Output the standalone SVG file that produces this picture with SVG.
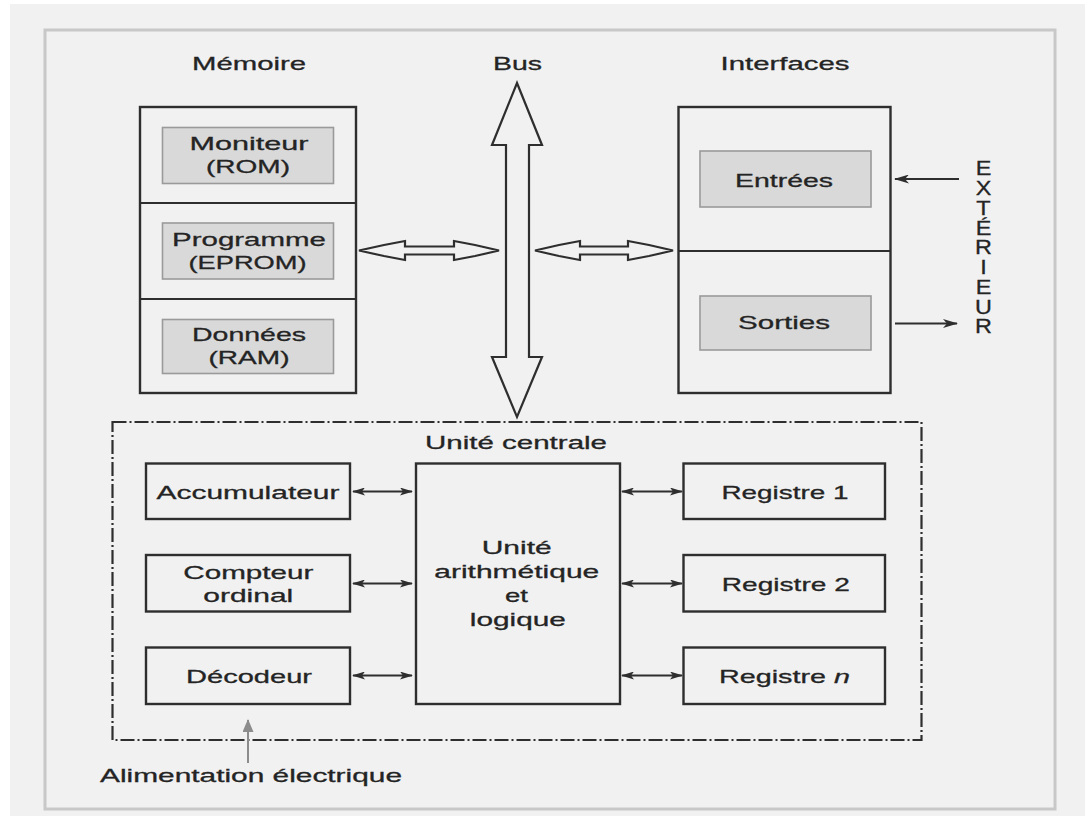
<svg xmlns="http://www.w3.org/2000/svg" width="1085" height="816" viewBox="0 0 1085 816">
  <style>
    text { font-family: "Liberation Sans", Arial, sans-serif; font-size: 19px; fill: #242424; stroke: #242424; stroke-width: 0.3; text-anchor: middle; }
    .box { fill: none; stroke: #2e2e2e; stroke-width: 2.4; }
    .cell { fill: #d9d9d9; stroke: #9a9a9a; stroke-width: 1.6; }
    .div { stroke: #2e2e2e; stroke-width: 2.2; }
    .bus { fill: #f1f1f1; stroke: #2e2e2e; stroke-width: 2.2; stroke-linejoin: miter; }
    .link { stroke: #2e2e2e; stroke-width: 1.8; fill: none; }
    .unit { fill: none; stroke: #2e2e2e; stroke-width: 2.2; stroke-dasharray: 14 3 2 3; }
    .power { stroke: #8c8c8c; stroke-width: 2; fill: none; }
    .ext { font-size: 19.5px; text-anchor: start; writing-mode: vertical-rl; text-orientation: upright; }
  </style>
  <defs>
    <marker id="head" viewBox="0 0 13 8" refX="12" refY="4" markerWidth="13" markerHeight="8" markerUnits="userSpaceOnUse" orient="auto-start-reverse">
      <path d="M0,0 L13,4 L0,8 L3,4 z" fill="#2e2e2e"/>
    </marker>
    <marker id="headLong" viewBox="0 0 15 9" refX="14" refY="4.5" markerWidth="15" markerHeight="9" markerUnits="userSpaceOnUse" orient="auto">
      <path d="M0,0 L15,4.5 L0,9 L4,4.5 z" fill="#2e2e2e"/>
    </marker>
    <marker id="headGray" viewBox="0 0 13 11" refX="12" refY="5.5" markerWidth="13" markerHeight="11" markerUnits="userSpaceOnUse" orient="auto">
      <path d="M0,0 L13,5.5 L0,11 z" fill="#8c8c8c"/>
    </marker>
  </defs>

  <!-- page background and frame -->
  <rect x="0" y="0" width="1085" height="816" fill="#ffffff"/>
  <rect x="10" y="4" width="1075" height="812" fill="#f1f1f1"/>
  <rect x="45" y="30" width="1010" height="779" fill="none" stroke="#c8c8c8" stroke-width="3"/>

  <!-- column headings -->
  <text x="249" y="70" textLength="114" lengthAdjust="spacingAndGlyphs">Mémoire</text>
  <text x="517.5" y="70" textLength="49" lengthAdjust="spacingAndGlyphs">Bus</text>
  <text x="785" y="70" textLength="129" lengthAdjust="spacingAndGlyphs">Interfaces</text>

  <!-- memory block -->
  <g id="memoire">
    <rect class="box" x="140" y="107" width="216" height="286"/>
    <line class="div" x1="140" y1="203" x2="356" y2="203"/>
    <line class="div" x1="140" y1="299" x2="356" y2="299"/>
  </g>
  <g id="moniteur">
    <rect class="cell" x="162.5" y="127.5" width="171" height="56"/>
    <text x="249" y="150" textLength="119" lengthAdjust="spacingAndGlyphs">Moniteur</text>
    <text x="248" y="173" textLength="84" lengthAdjust="spacingAndGlyphs">(ROM)</text>
  </g>
  <g id="programme">
    <rect class="cell" x="162.5" y="223" width="171" height="56"/>
    <text x="249" y="246" textLength="154" lengthAdjust="spacingAndGlyphs">Programme</text>
    <text x="247.5" y="268.5" textLength="118" lengthAdjust="spacingAndGlyphs">(EPROM)</text>
  </g>
  <g id="donnees">
    <rect class="cell" x="162.5" y="319.5" width="171" height="54"/>
    <text x="249" y="341" textLength="114" lengthAdjust="spacingAndGlyphs">Données</text>
    <text x="249" y="363.5" textLength="81" lengthAdjust="spacingAndGlyphs">(RAM)</text>
  </g>

  <!-- interfaces block -->
  <g id="interfaces">
    <rect class="box" x="678.5" y="107" width="212" height="286"/>
    <line class="div" x1="678.5" y1="251" x2="890.5" y2="251"/>
  </g>
  <g id="entrees">
    <rect class="cell" x="700" y="151" width="171" height="56"/>
    <text x="784" y="186.5" textLength="98" lengthAdjust="spacingAndGlyphs">Entrées</text>
  </g>
  <g id="sorties">
    <rect class="cell" x="700" y="296" width="171" height="54"/>
    <text x="784" y="328.5" textLength="92" lengthAdjust="spacingAndGlyphs">Sorties</text>
  </g>

  <!-- outside world label, written top to bottom -->
  <g id="exterieur" transform="translate(983.5,0) scale(1.2,1)">
    <text class="ext" x="0" y="158" textLength="180" lengthAdjust="spacing">EXTÉRIEUR</text>
  </g>

  <!-- central unit -->
  <g id="unite-centrale">
    <rect class="unit" x="112.5" y="422" width="809" height="318"/>
    <text x="516" y="448.5" textLength="182" lengthAdjust="spacingAndGlyphs">Unité centrale</text>
  </g>
  <g id="accumulateur">
    <rect class="box" x="146" y="463.5" width="204" height="55.5"/>
    <text x="248" y="498.5" textLength="183" lengthAdjust="spacingAndGlyphs">Accumulateur</text>
  </g>
  <g id="compteur">
    <rect class="box" x="146" y="555" width="204" height="56.5"/>
    <text x="248.3" y="578.5" textLength="130" lengthAdjust="spacingAndGlyphs">Compteur</text>
    <text x="248.3" y="601.7" textLength="90" lengthAdjust="spacingAndGlyphs">ordinal</text>
  </g>
  <g id="decodeur">
    <rect class="box" x="146" y="647.5" width="204" height="56.5"/>
    <text x="249" y="682.7" textLength="126" lengthAdjust="spacingAndGlyphs">Décodeur</text>
  </g>
  <g id="ual">
    <rect class="box" x="416" y="463.5" width="204" height="240.5"/>
    <text x="516.7" y="554" textLength="70" lengthAdjust="spacingAndGlyphs">Unité</text>
    <text x="516.8" y="578.3" textLength="165" lengthAdjust="spacingAndGlyphs">arithmétique</text>
    <text x="516.5" y="601.7" textLength="23" lengthAdjust="spacingAndGlyphs">et</text>
    <text x="517.8" y="626" textLength="96" lengthAdjust="spacingAndGlyphs">logique</text>
  </g>
  <g id="registre-1">
    <rect class="box" x="683.5" y="463.5" width="201.5" height="55.5"/>
    <text x="785" y="498.5" textLength="127" lengthAdjust="spacingAndGlyphs">Registre 1</text>
  </g>
  <g id="registre-2">
    <rect class="box" x="683.5" y="555" width="201.5" height="56.5"/>
    <text x="785.8" y="590.7" textLength="128" lengthAdjust="spacingAndGlyphs">Registre 2</text>
  </g>
  <g id="registre-n">
    <rect class="box" x="683.5" y="647.5" width="201.5" height="56.5"/>
    <text x="784.5" y="682.7" textLength="131" lengthAdjust="spacingAndGlyphs">Registre <tspan font-style="italic">n</tspan></text>
  </g>

  <g id="alimentation">
    <text x="251" y="781.7" textLength="302" lengthAdjust="spacingAndGlyphs">Alimentation électrique</text>
  </g>

  <!-- connectors -->
  <g id="connecteurs">
    <!-- system bus, vertical double arrow -->
    <polygon class="bus" points="517,83 542,145 529,145 529,357 542,357 517,417 492,357 506,357 506,145 492,145"/>
    <!-- memory to bus -->
    <polygon class="bus" points="359,250.5 384,245 405,241 405,246.5 454,246.5 454,241 475,245 499,250.5 475,256 454,260 454,254.5 405,254.5 405,260 384,256"/>
    <!-- bus to interfaces -->
    <polygon class="bus" points="535,250.5 559,245 580,241 580,246.5 628,246.5 628,241 649,245 673,250.5 649,256 628,260 628,254.5 580,254.5 580,260 559,256"/>

    <!-- outside in / out -->
    <line class="link" x1="959" y1="179" x2="895" y2="179" marker-end="url(#headLong)"/>
    <line class="link" x1="895" y1="323.5" x2="957" y2="323.5" marker-end="url(#headLong)"/>

    <!-- central unit links -->
    <line class="link" x1="353" y1="491.5" x2="412" y2="491.5" marker-start="url(#head)" marker-end="url(#head)"/>
    <line class="link" x1="353" y1="583.5" x2="412" y2="583.5" marker-start="url(#head)" marker-end="url(#head)"/>
    <line class="link" x1="353" y1="675.5" x2="412" y2="675.5" marker-start="url(#head)" marker-end="url(#head)"/>
    <line class="link" x1="622" y1="491.5" x2="682" y2="491.5" marker-start="url(#head)" marker-end="url(#head)"/>
    <line class="link" x1="622" y1="583.5" x2="682" y2="583.5" marker-start="url(#head)" marker-end="url(#head)"/>
    <line class="link" x1="622" y1="675.5" x2="682" y2="675.5" marker-start="url(#head)" marker-end="url(#head)"/>

    <!-- power supply -->
    <line class="power" x1="248" y1="763" x2="248" y2="720" marker-end="url(#headGray)"/>
  </g>
</svg>
